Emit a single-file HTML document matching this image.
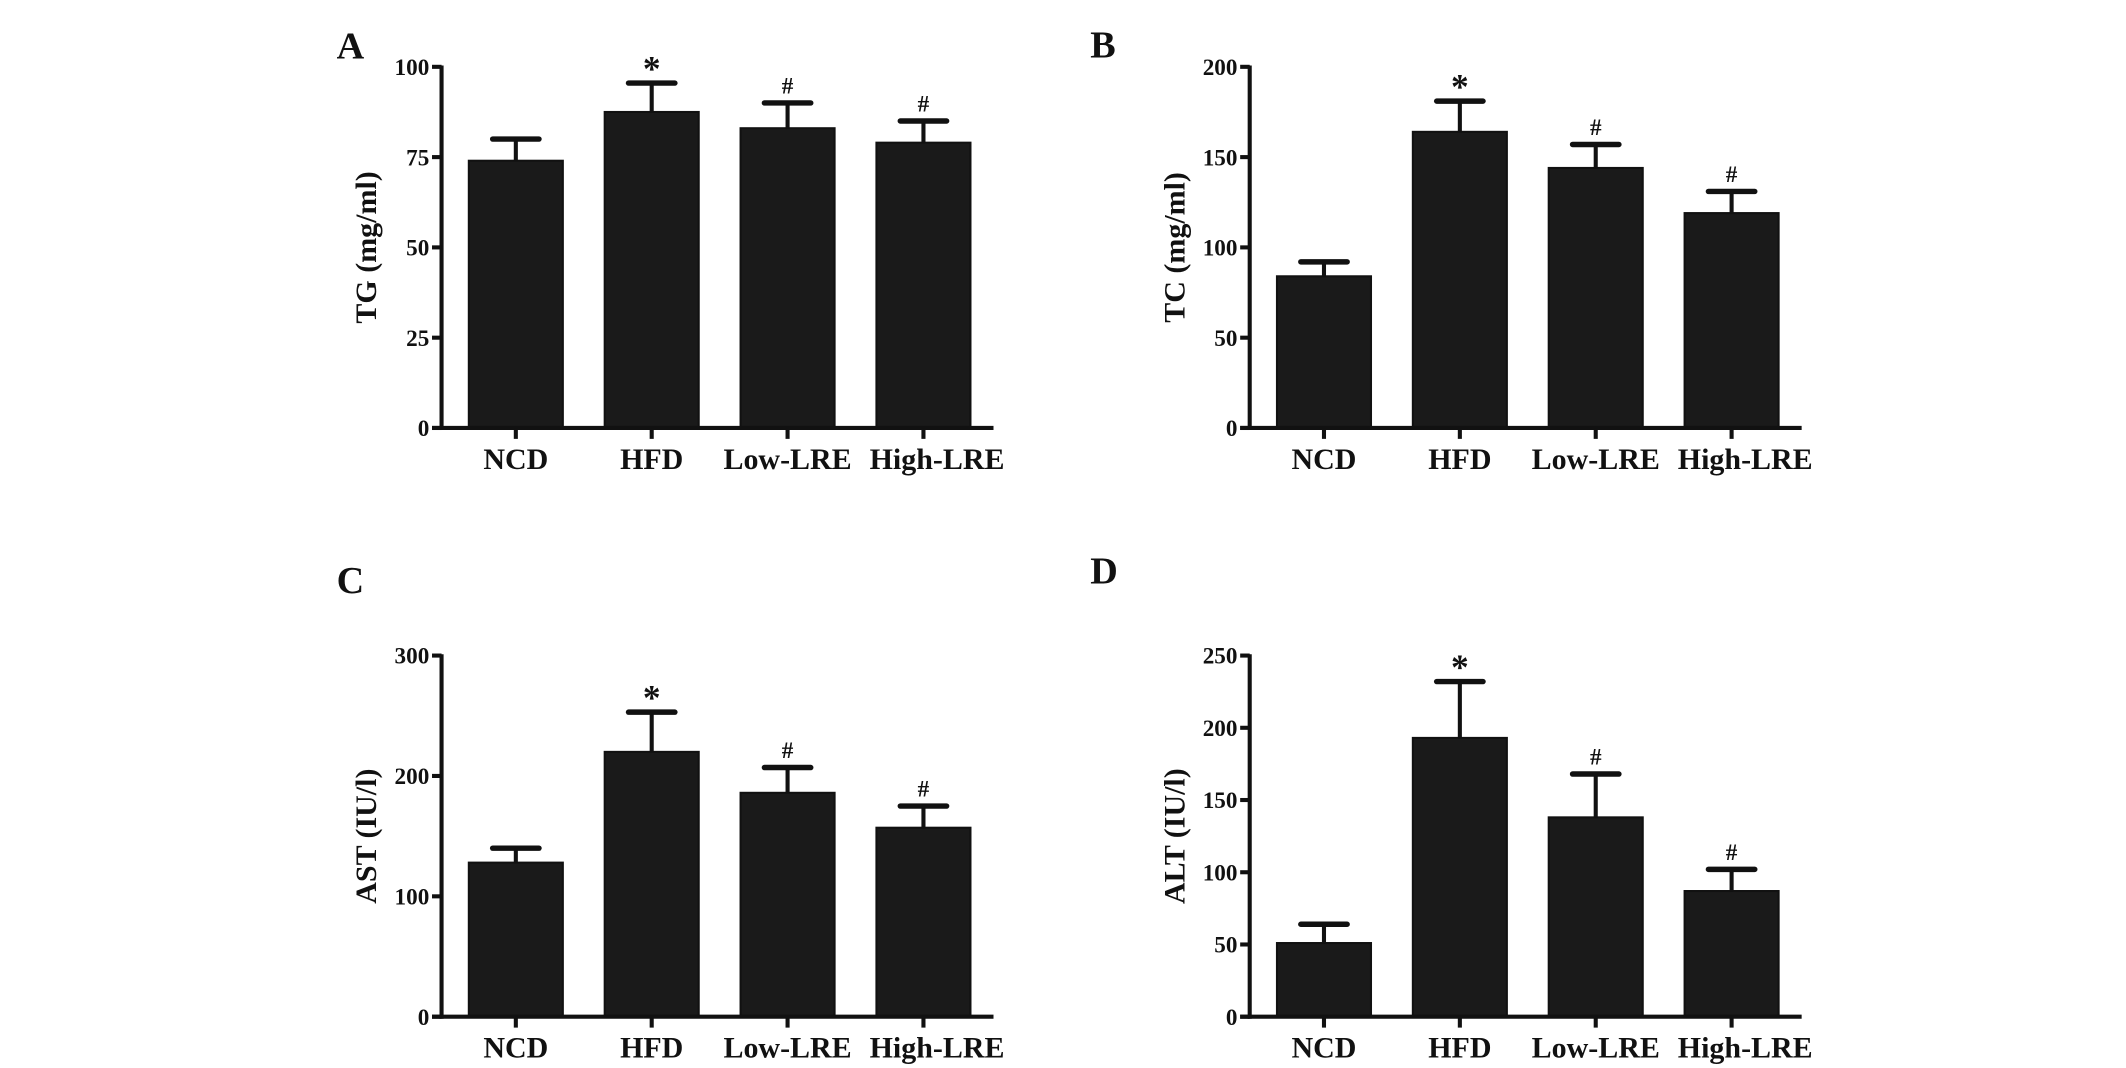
<!DOCTYPE html>
<html><head><meta charset="utf-8"><style>
html,body{margin:0;padding:0;background:#fff;}
svg{display:block;}
text{font-family:"Liberation Serif",serif;font-weight:bold;fill:#111;}
</style></head><body>
<svg id="fig" width="2126" height="1068" viewBox="0 0 1560 783.6" xmlns="http://www.w3.org/2000/svg"></svg>
<script>
const categories = ["NCD","HFD","Low-LRE","High-LRE"];
const tgMeans = [74, 87.5, 83, 79];
const tgErrTop = [80, 95.5, 90, 85];
const tgTicks = [0,25,50,75,100];
const tcMeans = [84, 164, 144, 119];
const tcErrTop = [92, 181, 157, 131];
const tcTicks = [0,50,100,150,200];
const astMeans = [128, 220, 186, 157];
const astErrTop = [140, 253, 207, 175];
const astTicks = [0,100,200,300];
const altMeans = [51, 193, 138, 87];
const altErrTop = [64, 232, 168, 102];
const altTicks = [0,50,100,150,200,250];
const marks = ["", "*", "#", "#"];

const NS="http://www.w3.org/2000/svg";
const svg=document.getElementById('fig');
function mk(tag,attrs,parent){const e=document.createElementNS(NS,tag);for(const k in attrs)e.setAttribute(k,attrs[k]);(parent||svg).appendChild(e);return e;}

function panel(cfg){
  const g=mk('g',{});
  
  
  const ax=cfg.ax, y0=cfg.y0, yTop=cfg.yTop, xEnd=ax+405;
  const max=cfg.ticks[cfg.ticks.length-1];
  const yS=v=>y0-(v/max)*(y0-yTop);
  const barStart=ax+20, step=99.7, bw=69;
  const xC=i=>barStart+i*step+bw/2;
  const lt=mk('text',{x:cfg.lx,y:cfg.ly,'font-size':28},g);
  lt.textContent=cfg.letter;
  
  
  cfg.means.forEach((m,i)=>{
    const x=barStart+i*step;
    const b=mk('rect',{x:x,y:yS(m),width:bw,height:y0-yS(m),fill:'#1a1a1a',stroke:'#111','stroke-width':1.5},g);
    
    
    const e=mk('line',{x1:xC(i),x2:xC(i),y1:yS(m),y2:yS(cfg.err[i]),stroke:'#111','stroke-width':3},g);
    
    
    const c=mk('line',{x1:xC(i)-17,x2:xC(i)+17,y1:yS(cfg.err[i]),y2:yS(cfg.err[i]),stroke:'#111','stroke-width':4,'stroke-linecap':'round'},g);
    
    
    if(marks[i]){
      const s=mk('text',{x:xC(i),y:yS(cfg.err[i])-(marks[i]==='*'?2:7),'font-size':marks[i]==='*'?26:17,'text-anchor':'middle','font-weight':marks[i]==='*'?'bold':'normal'},g);
      s.textContent=marks[i];
      
      
    }
    const t=mk('line',{x1:xC(i),x2:xC(i),y1:y0,y2:y0+8,stroke:'#111','stroke-width':3},g);
    
    
    const lb=mk('text',{x:xC(i)+(i===3?10:0),y:y0+30,'font-size':22,'text-anchor':'middle'},g);
    lb.textContent=categories[i];
    
    
  });
  const ya=mk('line',{x1:ax,x2:ax,y1:yTop-1,y2:y0+1.5,stroke:'#111','stroke-width':3},g);
  
  
  const xa=mk('line',{x1:ax-7,x2:xEnd,y1:y0,y2:y0,stroke:'#111','stroke-width':3},g);
  
  
  cfg.ticks.forEach(v=>{
    const tk=mk('line',{x1:ax-7,x2:ax,y1:yS(v),y2:yS(v),stroke:'#111','stroke-width':3},g);
    
    
    const tl=mk('text',{x:ax-9,y:yS(v)+6,'font-size':17,'text-anchor':'end'},g);
    tl.textContent=v;
    
    
  });
  const cy=(y0+yTop)/2;
  const yt=mk('text',{x:ax-48,y:cy,'font-size':22,'text-anchor':'middle',transform:'rotate(-90 '+(ax-48)+' '+cy+')'},g);
  yt.textContent=cfg.title;
  
  
}
panel({letter:'A',lx:247,ly:43,ax:324,y0:314,yTop:49,ticks:tgTicks,means:tgMeans,err:tgErrTop,title:'TG (mg/ml)'});
panel({letter:'B',lx:800,ly:42,ax:917,y0:314,yTop:49,ticks:tcTicks,means:tcMeans,err:tcErrTop,title:'TC (mg/ml)'});
panel({letter:'C',lx:247,ly:435,ax:324,y0:746,yTop:481,ticks:astTicks,means:astMeans,err:astErrTop,title:'AST (IU/l)'});
panel({letter:'D',lx:800,ly:428,ax:917,y0:746,yTop:481,ticks:altTicks,means:altMeans,err:altErrTop,title:'ALT (IU/l)'});
</script>
</body></html>
